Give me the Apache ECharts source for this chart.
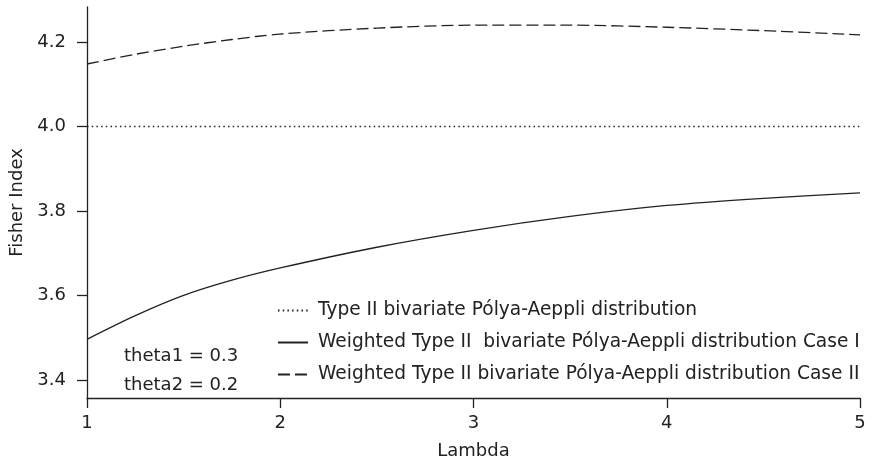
<!DOCTYPE html>
<html>
<head>
<meta charset="utf-8">
<script src="https://cdn.jsdelivr.net/npm/echarts@6/dist/echarts.min.js"></script>
<style>html,body{margin:0;padding:0;background:#fff}#c{width:874px;height:464px}</style>
</head>
<body>
<div id="c"></div>
<script>
const lambda = [1, 1.25, 1.5, 1.75, 2, 2.5, 3, 3.5, 4, 4.5, 5];
const typeII = [4.0, 4.0, 4.0, 4.0, 4.0, 4.0, 4.0, 4.0, 4.0, 4.0, 4.0];
const caseI = [3.496, 3.552, 3.600, 3.636, 3.665, 3.714, 3.754, 3.787, 3.813, 3.830, 3.843];
const caseII = [4.148, 4.171, 4.190, 4.206, 4.219, 4.233, 4.240, 4.240, 4.235, 4.227, 4.217];
const yTicks = [3.4, 3.6, 3.8, 4.0, 4.2];
const xTicks = [1, 2, 3, 4, 5];
const names = [
  'Type II bivariate Pólya-Aeppli distribution',
  'Weighted Type II  bivariate Pólya-Aeppli distribution Case I',
  'Weighted Type II bivariate Pólya-Aeppli distribution Case II'
];
const annot = ['theta1 = 0.3', 'theta2 = 0.2'];

const FONT = '"DejaVu Sans", sans-serif';
const FS = 18;
const TXT = '#222';
const pair = arr => lambda.map((x, i) => [x, arr[i]]);

const chart = echarts.init(document.getElementById('c'), null, {renderer: 'canvas'});
chart.setOption({
  animation: false,
  backgroundColor: '#fff',
  textStyle: {fontFamily: FONT, color: TXT},
  grid: {left: 87, right: 14, top: 7, bottom: 66, containLabel: false, outerBoundsMode: 'none'},
  xAxis: {
    type: 'value', min: 1, max: 5, interval: 1,
    name: 'Lambda', nameLocation: 'middle', nameGap: 44,
    nameTextStyle: {fontSize: FS, color: TXT, fontFamily: FONT},
    axisLine: {show: true, lineStyle: {color: '#222', width: 1.3}},
    axisTick: {show: true, length: 10, lineStyle: {color: '#222', width: 1.3}},
    axisLabel: {fontSize: FS, color: TXT, margin: 16, fontFamily: FONT},
    splitLine: {show: false}
  },
  yAxis: {
    type: 'value', min: 3.357, max: 4.283,
    name: 'Fisher Index', nameLocation: 'middle', nameGap: 61, nameRotate: 90,
    nameTextStyle: {fontSize: FS, color: TXT, fontFamily: FONT},
    axisLine: {show: true, lineStyle: {color: '#222', width: 1.3}},
    axisTick: {show: true, length: 10, customValues: yTicks, lineStyle: {color: '#222', width: 1.3}},
    axisLabel: {fontSize: FS, color: TXT, margin: 21, fontFamily: FONT, customValues: yTicks,
      formatter: v => v.toFixed(1)},
    splitLine: {show: false}
  },
  legend: {
    orient: 'vertical', left: 272, top: 296,
    itemWidth: 30, itemHeight: 14, itemGap: 13,
    itemStyle: {opacity: 0},
    textStyle: {fontSize: 18.6, color: TXT, fontFamily: FONT, padding: [0, 0, 0, 5]},
    data: names
  },
  series: [
    {name: names[0], type: 'line', data: pair(typeII), symbol: 'none', showSymbol: false,
      lineStyle: {color: '#222', width: 1.3, type: [1.5, 3.2]}, itemStyle: {color: '#222'}},
    {name: names[1], type: 'line', data: pair(caseI), symbol: 'none', showSymbol: false,
      smooth: 0.3,
      lineStyle: {color: '#222', width: 1.3, type: 'solid'}, itemStyle: {color: '#222'}},
    {name: names[2], type: 'line', data: pair(caseII), symbol: 'none', showSymbol: false,
      smooth: 0.3,
      lineStyle: {color: '#222', width: 1.3, type: [12, 5]}, itemStyle: {color: '#222'}}
  ],
  graphic: [
    {type: 'text', left: 124, top: 347, style: {text: annot[0], font: FS + 'px ' + FONT, fill: TXT}},
    {type: 'text', left: 124, top: 376, style: {text: annot[1], font: FS + 'px ' + FONT, fill: TXT}}
  ]
});
</script>
</body>
</html>
